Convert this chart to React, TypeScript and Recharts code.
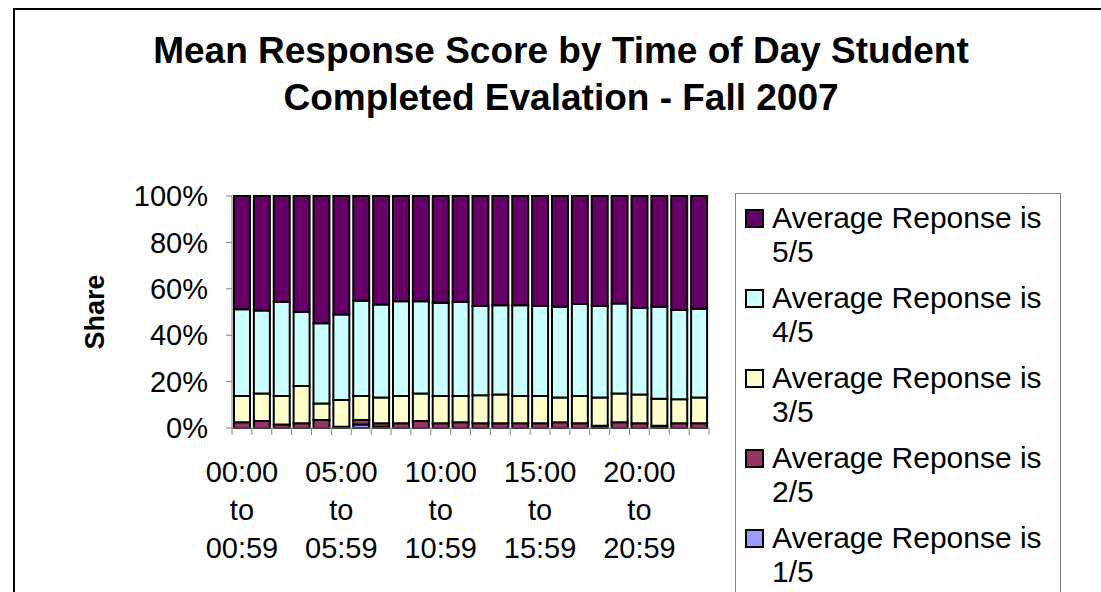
import { BarChart, Bar, XAxis, YAxis } from 'recharts';

const CATEGORIES = [
  '00:00 to 00:59', '01:00 to 01:59', '02:00 to 02:59', '03:00 to 03:59',
  '04:00 to 04:59', '05:00 to 05:59', '06:00 to 06:59', '07:00 to 07:59',
  '08:00 to 08:59', '09:00 to 09:59', '10:00 to 10:59', '11:00 to 11:59',
  '12:00 to 12:59', '13:00 to 13:59', '14:00 to 14:59', '15:00 to 15:59',
  '16:00 to 16:59', '17:00 to 17:59', '18:00 to 18:59', '19:00 to 19:59',
  '20:00 to 20:59', '21:00 to 21:59', '22:00 to 22:59', '23:00 to 23:59',
];

// share of evaluations (%) per average response score
const SCORE_1 = [0, 0, 0, 0, 0, 0, 1.5, 0.5, 0, 0, 0, 0, 0, 0, 0, 0, 0, 0, 0, 0, 0, 0, 0, 0];
const SCORE_2 = [2.5, 3, 1.5, 2, 3.5, 0.5, 2, 1.5, 2, 3, 2, 2.5, 2, 2, 2, 2, 2.5, 2, 1, 2.5, 2, 1, 2, 2];
const SCORE_3 = [11.3, 11.9, 12.3, 16.1, 7.1, 11.6, 10.3, 11.2, 11.8, 11.9, 11.8, 11.3, 12.1, 12.4, 11.8, 11.8, 10.7, 11.8, 12.2, 12.4, 12.4, 11.6, 10.4, 11.2];
const SCORE_4 = [37.4, 35.7, 40.5, 31.9, 34.5, 36.8, 41.1, 40.0, 40.8, 39.7, 40.2, 40.5, 38.5, 38.5, 39.1, 38.8, 39.1, 39.6, 39.4, 38.8, 37.3, 39.7, 38.5, 38.2];
const SCORE_5 = [48.8, 49.4, 45.7, 50.0, 54.9, 51.1, 45.1, 46.8, 45.4, 45.4, 46.0, 45.7, 47.4, 47.1, 47.1, 47.4, 47.7, 46.6, 47.4, 46.3, 48.3, 47.7, 49.1, 48.6];

const Y_TICKS = [0, 0.2, 0.4, 0.6, 0.8, 1];

const SERIES = [
  { key: 's1', name: 'Average Reponse is 1/5', color: '#9999ff' },
  { key: 's2', name: 'Average Reponse is 2/5', color: '#993366' },
  { key: 's3', name: 'Average Reponse is 3/5', color: '#ffffcc' },
  { key: 's4', name: 'Average Reponse is 4/5', color: '#ccffff' },
  { key: 's5', name: 'Average Reponse is 5/5', color: '#660066' },
];

const data = CATEGORIES.map((c, i) => ({
  hour: c,
  s1: SCORE_1[i],
  s2: SCORE_2[i],
  s3: SCORE_3[i],
  s4: SCORE_4[i],
  s5: SCORE_5[i],
}));

const FONT = "Arial, 'Liberation Sans', sans-serif";
const W = 1101;
const H = 592;
const MARGIN = { top: 196, right: 392, bottom: 0, left: 0 };
const Y_AXIS_W = 232;
const BAND = (W - MARGIN.right - MARGIN.left - Y_AXIS_W) / CATEGORIES.length;

function HourTick(props: any) {
  const { x, y, index, payload } = props;
  const left = x - BAND / 2;
  const parts: string[] = String(payload.value).split(' ');
  return (
    <g>
      <line x1={left} x2={left} y1={y} y2={y + 7} stroke="#808080" />
      {index === CATEGORIES.length - 1 && (
        <line x1={x + BAND / 2} x2={x + BAND / 2} y1={y} y2={y + 7} stroke="#808080" />
      )}
      {index % 5 === 0 &&
        parts.map((p, i) => (
          <text key={i} x={x} y={y + 54 + i * 38} textAnchor="middle" fill="#000" fontSize={29} fontFamily={FONT}>
            {p}
          </text>
        ))}
    </g>
  );
}

function ShareLabel(props: any) {
  const { viewBox } = props;
  const cx = 95;
  const cy = viewBox.y + viewBox.height / 2;
  return (
    <text
      x={cx}
      y={cy}
      transform={`rotate(-90 ${cx} ${cy})`}
      textAnchor="middle"
      dominantBaseline="central"
      fontSize={27}
      fontWeight="bold"
      fontFamily={FONT}
      fill="#000"
    >
      Share
    </text>
  );
}

export default function App() {
  const legendItems = [...SERIES].reverse();
  return (
    <div style={{ position: 'absolute', left: 0, top: 0, width: W, height: H, overflow: 'hidden', background: '#fff', fontFamily: FONT }}>
      <div style={{ position: 'absolute', left: 13, top: 8, width: 1110, height: 620, border: '2px solid #000', boxSizing: 'border-box' }} />
      <div style={{
        position: 'absolute', left: 0, top: 27, width: 1122, textAlign: 'center',
        fontSize: 37, fontWeight: 'bold', lineHeight: '47px', color: '#000',
      }}>
        Mean Response Score by Time of Day Student<br />Completed Evalation - Fall 2007
      </div>
      <div style={{ position: 'absolute', left: 0, top: 0 }}>
        <BarChart width={W} height={H} data={data} margin={MARGIN} stackOffset="expand" barCategoryGap="10%">
          <XAxis
            dataKey="hour"
            interval={0}
            height={H - MARGIN.top - 232}
            tickSize={0}
            tickMargin={0}
            tick={<HourTick />}
            axisLine={{ stroke: '#808080' }}
          />
          <YAxis
            width={Y_AXIS_W}
            domain={[0, 1]}
            ticks={Y_TICKS}
            tickFormatter={(v: number) => `${Math.round(v * 100)}%`}
            tick={{ fill: '#000', fontSize: 29, fontFamily: FONT }}
            tickSize={6}
            tickMargin={18}
            tickLine={{ stroke: '#808080' }}
            axisLine={{ stroke: '#808080' }}
            label={<ShareLabel />}
          />
          {SERIES.map((s) => (
            <Bar
              key={s.key}
              dataKey={s.key}
              name={s.name}
              stackId="a"
              fill={s.color}
              stroke="#000"
              strokeWidth={2}
              isAnimationActive={false}
            />
          ))}
        </BarChart>
      </div>
      <div style={{
        position: 'absolute', left: 735, top: 193, width: 326, height: 430,
        border: '1px solid #808080', boxSizing: 'border-box', paddingTop: 7,
      }}>
        {legendItems.map((s) => (
          <div key={s.key} style={{ display: 'flex', alignItems: 'flex-start', height: 80 }}>
            <div style={{
              width: 15, height: 15, marginLeft: 9, marginTop: 8, marginRight: 8,
              background: s.color, border: '2px solid #000', flexShrink: 0,
            }} />
            <div style={{ width: 290, fontSize: 30, lineHeight: '34px', color: '#000' }}>{s.name}</div>
          </div>
        ))}
      </div>
    </div>
  );
}
